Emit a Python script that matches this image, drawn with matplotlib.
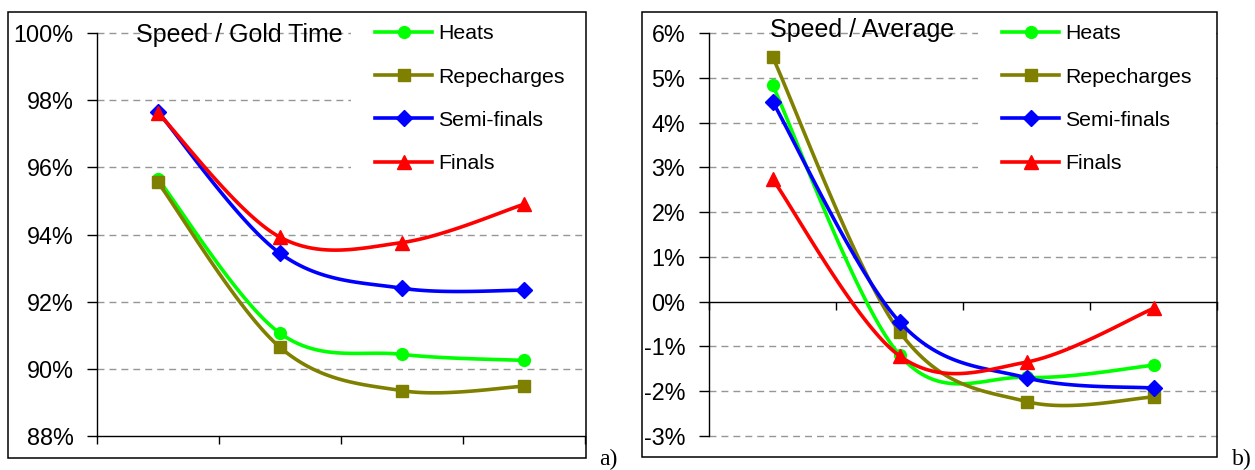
import numpy as np
import matplotlib
matplotlib.use("Agg")
import matplotlib.pyplot as plt
from matplotlib.lines import Line2D
from matplotlib.patches import Rectangle
from matplotlib.ticker import FuncFormatter, MultipleLocator

plt.rcParams['font.family'] = ['Liberation Sans', 'DejaVu Sans']
plt.rcParams['lines.scale_dashes'] = False

# race rounds (one point per distance segment, 4 segments)
rounds = ['Heats', 'Repecharges', 'Semi-finals', 'Finals']
segments = [0, 1, 2, 3]

# speed relative to gold-medal time, %
gold_heats = [95.65, 91.06, 90.43, 90.25]
gold_repecharges = [95.55, 90.64, 89.35, 89.48]
gold_semis = [97.65, 93.44, 92.40, 92.34]
gold_finals = [97.62, 93.92, 93.76, 94.90]

# speed relative to race average, %
avg_heats = [4.84, -1.19, -1.69, -1.42]
avg_repecharges = [5.47, -0.67, -2.23, -2.13]
avg_semis = [4.47, -0.45, -1.70, -1.93]
avg_finals = [2.74, -1.21, -1.35, -0.15]

colors = ['#00ff00', '#808000', '#0000ff', '#ff0000']
markers = ['o', 's', 'D', '^']
msizes = [8.5, 8.5, 8.5, 10]

W, H = 1255, 470


def smooth(x, y, n=40):
    # Bezier smoothing with Catmull-Rom style control points
    pts = np.column_stack([x, y]).astype(float)
    padded = np.vstack([pts[0], pts, pts[-1]])
    t = np.linspace(0, 1, n)[:, None]
    out = []
    for i in range(len(pts) - 1):
        p0, p1, p2, p3 = padded[i], padded[i + 1], padded[i + 2], padded[i + 3]
        c1 = p1 + (p2 - p0) / 6
        c2 = p2 - (p3 - p1) / 6
        seg = (1 - t)**3 * p1 + 3 * (1 - t)**2 * t * c1 + 3 * (1 - t) * t**2 * c2 + t**3 * p2
        out.append(seg if i == 0 else seg[1:])
    out = np.vstack(out)
    return out[:, 0], out[:, 1]


def px_axes(left, top, right, bottom):
    return [left / W, 1 - bottom / H, (right - left) / W, (bottom - top) / H]


def draw_panel(ax, series, ylim, step, title, title_xy, legend_xy, zero_axis=False):
    for vals, c, m, ms in zip(series, colors, markers, msizes):
        sx, sy = smooth(segments, vals)
        ax.plot(sx, sy, color=c, lw=2.6, solid_capstyle='round', zorder=3)
        ax.plot(segments, vals, linestyle='none', marker=m, ms=ms,
                color=c, mec=c, zorder=3)

    ax.set_xlim(-0.5, 3.5)
    ax.set_ylim(*ylim)
    ax.set_xticks([-0.5, 0.5, 1.5, 2.5, 3.5])
    ax.set_xticklabels([])
    ax.yaxis.set_major_locator(MultipleLocator(step))
    ax.yaxis.set_major_formatter(FuncFormatter(lambda v, p: f"{v:.0f}%"))
    ax.tick_params(axis='y', direction='out', length=7, width=1, pad=10,
                   labelsize=16.8, colors='black')
    ax.tick_params(axis='x', direction='out', length=6, width=1, colors='black')

    for s in ['top', 'right']:
        ax.spines[s].set_visible(False)
    ax.spines['left'].set_linewidth(1)
    ax.spines['bottom'].set_linewidth(1)
    if zero_axis:
        ax.spines['bottom'].set_position(('data', 0))

    ax.set_axisbelow(True)
    ax.yaxis.grid(True, color='#969696', lw=1, dashes=(5, 3.6))
    # hide the grid line that sits on the x axis, keep the edge ones unclipped
    for gl, val in zip(ax.yaxis.get_gridlines(), ax.get_yticks()):
        gl.set_clip_on(False)
        if abs(val - (0 if zero_axis else ylim[0])) < 1e-9:
            gl.set_visible(False)

    handles = [Line2D([], [], color=c, lw=2.6, marker=m, ms=ms, mec=c)
                for c, m, ms in zip(colors, markers, msizes)]
    fs = 15.3
    leg = ax.legend(handles, rounds, loc='upper left',
                    bbox_to_anchor=(legend_xy[0] / W, 1 - legend_xy[1] / H),
                    bbox_transform=ax.figure.transFigure,
                    fontsize=fs, handlelength=2.65, handletextpad=0.3,
                    labelspacing=1.14, borderpad=1.15, borderaxespad=0,
                    frameon=True, fancybox=False, edgecolor='none',
                    facecolor='white', framealpha=1, numpoints=1)
    leg.set_zorder(1.5)

    ax.figure.text(title_xy[0] / W, 1 - title_xy[1] / H, title, fontsize=18,
                   ha='center', va='baseline')


fig = plt.figure(figsize=(W / 100, H / 100), dpi=100)

ax_a = fig.add_axes(px_axes(97, 33, 585, 436))
draw_panel(ax_a, [gold_heats, gold_repecharges, gold_semis, gold_finals],
           (88, 100), 2, 'Speed / Gold Time', (239, 42), (351, 0))

ax_b = fig.add_axes(px_axes(709, 33, 1217, 436))
draw_panel(ax_b, [avg_heats, avg_repecharges, avg_semis, avg_finals],
           (-3, 6), 1, 'Speed / Average', (862, 37), (978, 0), zero_axis=True)

# chart frames
fig.add_artist(Rectangle((8 / W, 1 - 458 / H), 578 / W, 446 / H,
                         transform=fig.transFigure, fill=False, lw=1.1, ec='black'))
fig.add_artist(Rectangle((642 / W, 1 - 457 / H), 575 / W, 445 / H,
                         transform=fig.transFigure, fill=False, lw=1.1, ec='black'))

fig.text(599 / W, 1 - 465 / H, 'a)', fontsize=17, family='Liberation Serif',
         ha='left', va='baseline')
fig.text(1232 / W, 1 - 465 / H, 'b)', fontsize=17, family='Liberation Serif',
         ha='left', va='baseline')

fig.savefig('out.png', dpi=100)
